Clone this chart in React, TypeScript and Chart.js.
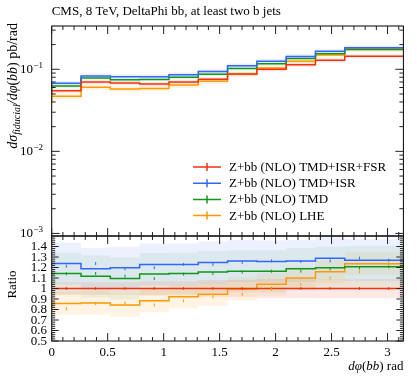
import React, { useEffect, useRef } from "react";
import { Chart, registerables } from "chart.js";

Chart.register(...registerables);

// ---------- data ----------
const binEdges = [0, 0.2618, 0.5236, 0.7854, 1.0472, 1.309, 1.5708, 1.8326, 2.0944, 2.3562, 2.618, 2.8798, 3.1416];

const seriesNames = [
  "Z+bb (NLO) TMD+ISR+FSR",
  "Z+bb (NLO) TMD+ISR",
  "Z+bb (NLO) TMD",
  "Z+bb (NLO) LHE",
];
const seriesColors = ["#ee3311", "#3366ff", "#109618", "#ff9900"];
const bandColors = [
  "rgba(238,51,17,0.10)",
  "rgba(51,102,255,0.09)",
  "rgba(16,150,24,0.08)",
  "rgba(255,153,0,0.11)",
];

// differential cross-section (pb/rad)
const xsecTmdIsrFsr = [0.0486, 0.0548, 0.0700, 0.0680, 0.0662, 0.0700, 0.0755, 0.0877, 0.1000, 0.1138, 0.1288, 0.1440];
const xsecTmdIsr = [0.0590, 0.0678, 0.0831, 0.0814, 0.0814, 0.0860, 0.0942, 0.1108, 0.1257, 0.1437, 0.1660, 0.1829];
const xsecTmd = [0.0554, 0.0626, 0.0782, 0.0745, 0.0753, 0.0800, 0.0873, 0.1022, 0.1165, 0.1351, 0.1542, 0.1737];
const xsecLhe = [0.0392, 0.0470, 0.0604, 0.0574, 0.0585, 0.0645, 0.0714, 0.0873, 0.1040, 0.1252, 0.1494, 0.1780];

// ratio to TMD+ISR+FSR
const ratioTmdIsrFsr = [1, 1, 1, 1, 1, 1, 1, 1, 1, 1, 1, 1];
const ratioTmdIsr = [1.213, 1.238, 1.187, 1.197, 1.229, 1.229, 1.248, 1.263, 1.257, 1.263, 1.289, 1.270];
const ratioTmd = [1.140, 1.143, 1.117, 1.095, 1.137, 1.143, 1.156, 1.165, 1.165, 1.187, 1.197, 1.206];
const ratioLhe = [0.806, 0.857, 0.863, 0.844, 0.883, 0.921, 0.946, 0.995, 1.040, 1.100, 1.160, 1.236];

// uncertainty band half-widths
const bandTopRel = [0.06, 0.06, 0.06, 0.08];
const ratioBandTmdIsrFsr = [0.06, 0.06, 0.06, 0.06, 0.07, 0.07, 0.08, 0.08, 0.09, 0.09, 0.09, 0.09];
const ratioBandTmdIsr = [0.2, 0.2, 0.2, 0.2, 0.2, 0.2, 0.2, 0.2, 0.2, 0.2, 0.2, 0.2];
const ratioBandTmd = [0.2, 0.2, 0.2, 0.2, 0.2, 0.2, 0.2, 0.2, 0.2, 0.2, 0.2, 0.2];
const ratioBandLhe = [0.11, 0.11, 0.11, 0.11, 0.11, 0.11, 0.11, 0.11, 0.11, 0.11, 0.11, 0.11];

const xTickMajor = [0, 0.5, 1, 1.5, 2, 2.5, 3];
const xTickLabels = ["0", "0.5", "1", "1.5", "2", "2.5", "3"];
const ratioTicks = [0.5, 0.6, 0.7, 0.8, 0.9, 1, 1.1, 1.2, 1.3, 1.4];
const ratioTickLabels = ["0.5", "0.6", "0.7", "0.8", "0.9", "1", "1.1", "1.2", "1.3", "1.4"];
const logDecades = [0.001, 0.01, 0.1];
const logDecadeExp = ["−3", "−2", "−1"];

const title = "CMS, 8 TeV, DeltaPhi bb, at least two b jets";

// ---------- layout ----------
const W = 417;
const H = 376;
const L = 51.7;
const R = 403.4;
const TOP = 26;
const MID = 236;
const BOT = 341;
const X_MAX = 3.1416;
const SERIF = '"Liberation Serif", "Times New Roman", serif';

function stepPoints(vals: number[]) {
  const pts = vals.map((v, i) => ({ x: binEdges[i], y: v }));
  pts.push({ x: binEdges[binEdges.length - 1], y: vals[vals.length - 1] });
  return pts;
}

function buildDatasets(vals: number[][], lo: number[][], hi: number[][]) {
  const ds: any[] = [];
  for (let s = 0; s < vals.length; s++) {
    ds.push({
      data: stepPoints(hi[s]),
      stepped: "after",
      borderWidth: 0,
      pointRadius: 0,
      backgroundColor: bandColors[s],
      fill: "+1",
      order: 20 + s,
    });
    ds.push({
      data: stepPoints(lo[s]),
      stepped: "after",
      borderWidth: 0,
      pointRadius: 0,
      fill: false,
      order: 20 + s,
    });
  }
  for (let s = 0; s < vals.length; s++) {
    ds.push({
      data: stepPoints(vals[s]),
      stepped: "after",
      borderColor: seriesColors[s],
      borderWidth: 1.5,
      pointRadius: 0,
      fill: false,
      order: s,
    });
  }
  return ds;
}

function drawXTicks(ctx: CanvasRenderingContext2D, xs: any, yEdge: number, dir: number) {
  ctx.strokeStyle = "#222";
  ctx.lineWidth = 1;
  ctx.beginPath();
  for (let i = 0; i <= 31; i++) {
    const v = i / 10;
    if (v > X_MAX) break;
    const x = xs.getPixelForValue(v);
    const major = i % 5 === 0;
    const len = major ? 8 : 4;
    ctx.moveTo(x, yEdge);
    ctx.lineTo(x, yEdge + dir * len);
  }
  ctx.stroke();
}

function drawFrame(ctx: CanvasRenderingContext2D, a: any) {
  ctx.strokeStyle = "#000";
  ctx.lineWidth = 1;
  ctx.strokeRect(a.left, a.top, a.right - a.left, a.bottom - a.top);
}

function drawErrTicks(ctx: CanvasRenderingContext2D, chart: any, vals: number[][], h: number) {
  const xs = chart.scales.x;
  const ys = chart.scales.y;
  ctx.lineWidth = 1;
  for (let s = 0; s < vals.length; s++) {
    ctx.strokeStyle = seriesColors[s];
    ctx.beginPath();
    for (let i = 0; i < vals[s].length; i++) {
      const xc = xs.getPixelForValue((binEdges[i] + binEdges[i + 1]) / 2);
      const y = ys.getPixelForValue(vals[s][i]);
      ctx.moveTo(xc, y - h);
      ctx.lineTo(xc, y + h);
    }
    ctx.stroke();
  }
}

const topPlugin = {
  id: "topDecor",
  afterDraw(chart: any) {
    const ctx: CanvasRenderingContext2D = chart.ctx;
    const a = chart.chartArea;
    const xs = chart.scales.x;
    const ys = chart.scales.y;
    ctx.save();
    drawFrame(ctx, a);
    drawXTicks(ctx, xs, a.top, 1);
    drawXTicks(ctx, xs, a.bottom, -1);
    ctx.strokeStyle = "#222";
    ctx.beginPath();
    for (const d of logDecades) {
      for (let m = 1; m <= 9; m++) {
        const v = d * m;
        if (v < ys.min || v > ys.max) continue;
        const y = ys.getPixelForValue(v);
        const len = m === 1 ? 8 : 4;
        ctx.moveTo(a.left, y);
        ctx.lineTo(a.left + len, y);
        ctx.moveTo(a.right, y);
        ctx.lineTo(a.right - len, y);
      }
    }
    ctx.stroke();
    ctx.fillStyle = "#000";
    logDecades.forEach((d, i) => {
      const y = ys.getPixelForValue(d);
      ctx.font = "9px " + SERIF;
      ctx.textAlign = "left";
      ctx.textBaseline = "alphabetic";
      const ew = ctx.measureText(logDecadeExp[i]).width;
      const xr = 43;
      ctx.fillText(logDecadeExp[i], xr - ew, y - 1);
      ctx.font = "13px " + SERIF;
      ctx.textAlign = "right";
      ctx.fillText("10", xr - ew - 0.5, y + 4);
    });
    ctx.font = "13px " + SERIF;
    ctx.textAlign = "left";
    ctx.textBaseline = "alphabetic";
    ctx.fillText(title, L, 14.5);
    // y axis title
    const parts: [string, string, number][] = [
      ["dσ", "italic 14px " + SERIF, 0],
      ["fiducial", "italic 10px " + SERIF, 3],
      ["/dφ", "italic 14px " + SERIF, 0],
      ["(", "14px " + SERIF, 0],
      ["bb", "italic 14px " + SERIF, 0],
      [")", "14px " + SERIF, 0],
      [" pb/rad", "14px " + SERIF, 0],
    ];
    let total = 0;
    for (const p of parts) {
      ctx.font = p[1];
      total += ctx.measureText(p[0]).width;
    }
    ctx.save();
    ctx.translate(17, 23);
    ctx.rotate(-Math.PI / 2);
    let cx = -total;
    ctx.textAlign = "left";
    for (const p of parts) {
      ctx.font = p[1];
      ctx.fillText(p[0], cx, p[2]);
      cx += ctx.measureText(p[0]).width;
    }
    ctx.restore();
    // legend
    const lx0 = 193;
    const lx1 = 221;
    const ly0 = 167;
    const dy = 16.2;
    ctx.textBaseline = "middle";
    ctx.textAlign = "left";
    ctx.font = "13px " + SERIF;
    seriesNames.forEach((n, i) => {
      const y = ly0 + i * dy;
      ctx.strokeStyle = seriesColors[i];
      ctx.lineWidth = 1.5;
      ctx.beginPath();
      ctx.moveTo(lx0, y);
      ctx.lineTo(lx1, y);
      ctx.moveTo((lx0 + lx1) / 2, y - 4);
      ctx.lineTo((lx0 + lx1) / 2, y + 4);
      ctx.stroke();
      ctx.fillStyle = "#000";
      ctx.fillText(n, 229, y + 0.5);
    });
    ctx.restore();
  },
};

const ratioPlugin = {
  id: "ratioDecor",
  afterDraw(chart: any) {
    const ctx: CanvasRenderingContext2D = chart.ctx;
    const a = chart.chartArea;
    const xs = chart.scales.x;
    const ys = chart.scales.y;
    ctx.save();
    drawErrTicks(ctx, chart, [ratioTmdIsrFsr, ratioTmdIsr, ratioTmd, ratioLhe], 1.5);
    drawFrame(ctx, a);
    drawXTicks(ctx, xs, a.top, 1);
    drawXTicks(ctx, xs, a.bottom, -1);
    ctx.strokeStyle = "#222";
    ctx.lineWidth = 1;
    ctx.beginPath();
    for (let i = 25; i <= 74; i++) {
      const v = i / 50;
      const y = ys.getPixelForValue(v);
      const len = i % 5 === 0 ? 7 : 3.5;
      ctx.moveTo(a.left, y);
      ctx.lineTo(a.left + len, y);
      ctx.moveTo(a.right, y);
      ctx.lineTo(a.right - len, y);
    }
    ctx.stroke();
    ctx.fillStyle = "#000";
    ctx.font = "13px " + SERIF;
    ctx.textAlign = "right";
    ctx.textBaseline = "middle";
    ratioTicks.forEach((v, i) => {
      ctx.fillText(ratioTickLabels[i], 47, ys.getPixelForValue(v) + 0.5);
    });
    ctx.textAlign = "center";
    ctx.textBaseline = "alphabetic";
    xTickMajor.forEach((v, i) => {
      ctx.fillText(xTickLabels[i], xs.getPixelForValue(v), 355.5);
    });
    const parts: [string, string][] = [
      ["dφ", "italic 13px " + SERIF],
      ["(", "13px " + SERIF],
      ["bb", "italic 13px " + SERIF],
      [")", "13px " + SERIF],
      [" rad", "13px " + SERIF],
    ];
    let total = 0;
    for (const p of parts) {
      ctx.font = p[1];
      total += ctx.measureText(p[0]).width;
    }
    let cx = R - total;
    ctx.textAlign = "left";
    for (const p of parts) {
      ctx.font = p[1];
      ctx.fillText(p[0], cx, 370);
      cx += ctx.measureText(p[0]).width;
    }
    ctx.save();
    ctx.translate(16, 284.5);
    ctx.rotate(-Math.PI / 2);
    ctx.font = "13px " + SERIF;
    ctx.textAlign = "center";
    ctx.fillText("Ratio", 0, 0);
    ctx.restore();
    ctx.restore();
  },
};

function baseOptions(yScale: any, padding: any) {
  return {
    animation: false,
    responsive: false,
    maintainAspectRatio: false,
    devicePixelRatio: 1,
    layout: { padding },
    plugins: { legend: { display: false }, tooltip: { enabled: false }, title: { display: false } },
    events: [],
    scales: {
      x: { type: "linear", min: 0, max: X_MAX, display: false },
      y: yScale,
    },
  };
}

export default function App() {
  const topRef = useRef<HTMLCanvasElement>(null);
  const botRef = useRef<HTMLCanvasElement>(null);

  useEffect(() => {
    const topVals = [xsecTmdIsrFsr, xsecTmdIsr, xsecTmd, xsecLhe];
    const topLo = topVals.map((arr, s) => arr.map((v) => v * (1 - bandTopRel[s])));
    const topHi = topVals.map((arr, s) => arr.map((v) => v * (1 + bandTopRel[s])));
    const rVals = [ratioTmdIsrFsr, ratioTmdIsr, ratioTmd, ratioLhe];
    const rBands = [ratioBandTmdIsrFsr, ratioBandTmdIsr, ratioBandTmd, ratioBandLhe];
    const rLo = rVals.map((arr, s) => arr.map((v, i) => v - rBands[s][i]));
    const rHi = rVals.map((arr, s) => arr.map((v, i) => v + rBands[s][i]));

    const top = new Chart(topRef.current!, {
      type: "line",
      data: { datasets: buildDatasets(topVals, topLo, topHi) },
      options: baseOptions(
        { type: "logarithmic", min: 0.00093, max: 0.337, display: false },
        { left: L, right: W - R, top: TOP, bottom: H - MID }
      ) as any,
      plugins: [topPlugin],
    });
    const bot = new Chart(botRef.current!, {
      type: "line",
      data: { datasets: buildDatasets(rVals, rLo, rHi) },
      options: baseOptions(
        { type: "linear", min: 0.5, max: 1.5, display: false },
        { left: L, right: W - R, top: MID, bottom: H - BOT }
      ) as any,
      plugins: [ratioPlugin],
    });
    return () => {
      top.destroy();
      bot.destroy();
    };
  }, []);

  const cs: React.CSSProperties = { position: "absolute", left: 0, top: 0, width: W, height: H };
  return (
    <div style={{ position: "fixed", left: 0, top: 0, width: W, height: H, background: "#fff" }}>
      <canvas ref={topRef} width={W} height={H} style={cs} />
      <canvas ref={botRef} width={W} height={H} style={cs} />
    </div>
  );
}
